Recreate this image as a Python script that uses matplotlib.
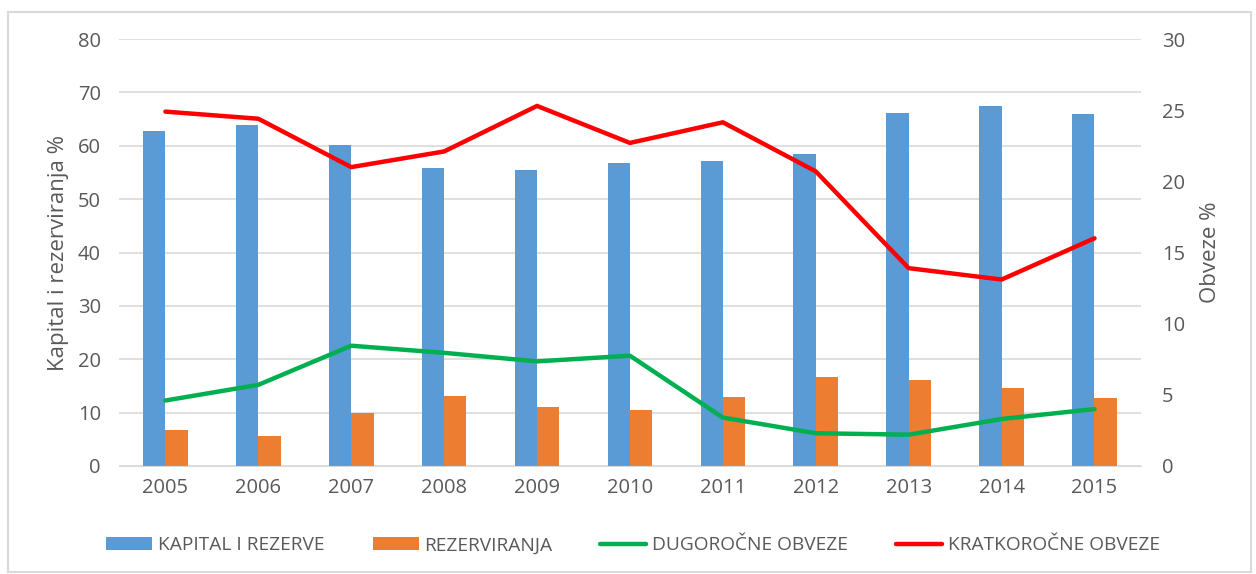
import numpy as np
import matplotlib
matplotlib.use('Agg')
import matplotlib.pyplot as plt
import matplotlib.patches as patches

plt.rcParams['font.family'] = ['Open Sans', 'DejaVu Sans']

years = ['2005', '2006', '2007', '2008', '2009', '2010', '2011', '2012', '2013', '2014', '2015']
kapital = [62.8, 63.9, 60.1, 55.9, 55.5, 56.8, 57.2, 58.5, 66.1, 67.5, 65.9]
rezerviranja = [6.7, 5.6, 10.0, 13.1, 11.1, 10.5, 12.9, 16.7, 16.2, 14.7, 12.7]
dugorocne = [4.6, 5.7, 8.45, 7.95, 7.35, 7.75, 3.4, 2.3, 2.2, 3.3, 4.0]
kratkorocne = [24.9, 24.4, 21.0, 22.1, 25.3, 22.7, 24.15, 20.7, 13.9, 13.1, 16.0]

c_blue = '#5B9BD5'
c_orange = '#ED7D31'
c_green = '#00B050'
c_red = '#FF0000'
c_text = '#595959'
c_grid = '#D9D9D9'

fig = plt.figure(figsize=(12.56, 5.74), dpi=100)
ax = fig.add_axes([0.0947, 0.1882, 0.8137, 0.7438])
ax2 = ax.twinx()

x = np.arange(len(years))
w = 0.24
b1 = ax.bar(x - w / 2, kapital, w, color=c_blue, zorder=2)
b2 = ax.bar(x + w / 2, rezerviranja, w, color=c_orange, zorder=2)
l1, = ax2.plot(x, dugorocne, color=c_green, lw=3.2, solid_capstyle='round')
l2, = ax2.plot(x, kratkorocne, color=c_red, lw=3.2, solid_capstyle='round')

ax.set_xlim(-0.5, 10.5)
ax.set_ylim(0, 80)
ax2.set_ylim(0, 30)
ax.set_yticks(range(0, 81, 10))
ax2.set_yticks(range(0, 31, 5))
ax.set_xticks(x)
ax.set_xticklabels(years)

ax.yaxis.grid(True, color=c_grid, lw=1.2, zorder=0)
ax.set_axisbelow(True)
for a in (ax, ax2):
    for s in a.spines.values():
        s.set_visible(False)
    a.tick_params(length=0, colors=c_text, labelsize=14.5)
ax.spines['bottom'].set_visible(True)
ax.spines['bottom'].set_color(c_grid)
ax.tick_params(axis='y', pad=13)
ax2.tick_params(axis='y', pad=15)
ax.tick_params(axis='x', pad=9)

ax.set_ylabel('Kapital i rezerviranja %', color=c_text, fontsize=16, labelpad=6)
ax2.set_ylabel('Obveze %', color=c_text, fontsize=16, labelpad=11)

fig.legend([b1, b2, l1, l2],
           ['KAPITAL I REZERVE', 'REZERVIRANJA', 'DUGOROČNE OBVEZE', 'KRATKOROČNE OBVEZE'],
           loc='center', bbox_to_anchor=(0.504, 0.05), ncol=4, frameon=False,
           fontsize=13.8, labelcolor=c_text, handlelength=2.4, handleheight=0.62,
           columnspacing=2.5, handletextpad=0.3)

fig.patches.append(patches.Rectangle((0.006, 0.004), 0.99, 0.975, transform=fig.transFigure,
                                     fill=False, edgecolor=c_grid, lw=1.5))

fig.savefig('out.png', dpi=100)
